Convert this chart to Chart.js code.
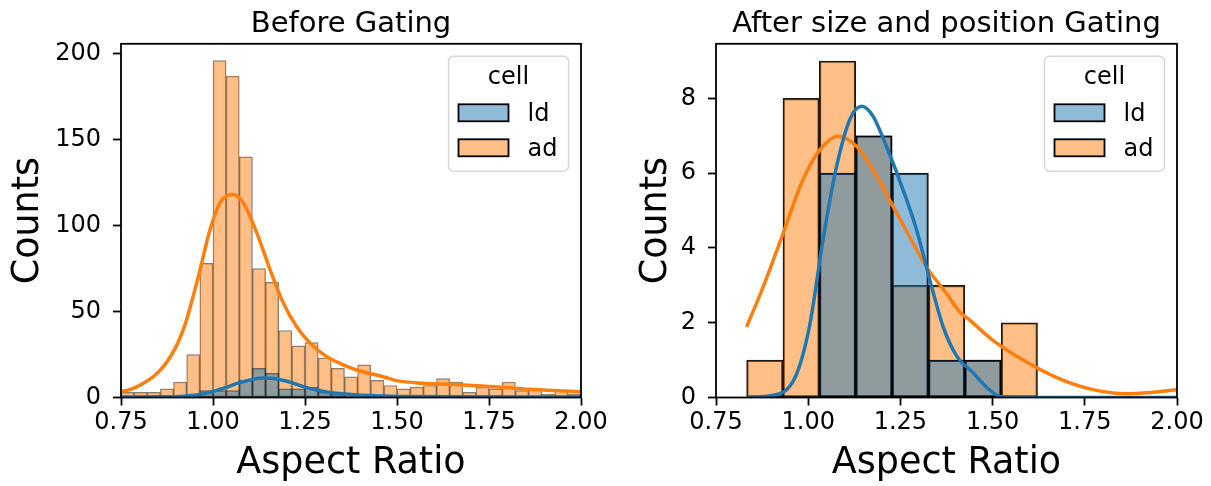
<!DOCTYPE html>
<html><head><meta charset="utf-8">
<script src="https://cdn.jsdelivr.net/npm/chart.js@4.4.0/dist/chart.umd.min.js"></script>
<style>
html,body{margin:0;padding:0;background:#fff;width:1211px;height:486px;overflow:hidden;position:relative}
canvas{position:absolute;top:0}
</style></head><body>
<canvas id="c1" width="620" height="486" style="left:0;width:620px;height:486px"></canvas>
<canvas id="c2" width="611" height="486" style="left:600px;width:611px;height:486px"></canvas>
<script>
// ---------- data ----------
const seriesNames = ['ld', 'ad'];
const legendTitle = 'cell';
const xTickLabels = ['0.75', '1.00', '1.25', '1.50', '1.75', '2.00'];
const leftYTickLabels = ['0', '50', '100', '150', '200'];
const rightYTickLabels = ['0', '2', '4', '6', '8'];

// Before Gating: histogram bins (centers) and counts
const leftBinCenters = [0.7677, 0.8034, 0.8391, 0.8749, 0.9106, 0.9463, 0.9821, 1.0178, 1.0535, 1.0893,
  1.1250, 1.1607, 1.1964, 1.2322, 1.2679, 1.3036, 1.3394, 1.3751, 1.4108, 1.4466,
  1.4823, 1.5180, 1.5537, 1.5895, 1.6252, 1.6609, 1.6967, 1.7324, 1.7681, 1.8039,
  1.8396, 1.8753, 1.9110, 1.9468, 1.9825];
const leftLd = [0, 0, 0, 0, 0, 1, 4, 4, 4, 10, 17, 14, 5, 5, 6, 3, 2, 1, 1, 1, 1, 0, 1, 0, 0, 0, 0, 0, 0, 0, 0, 0, 0, 0, 0];
const leftAd = [3, 3, 3, 5, 9, 25, 78, 196, 187, 140, 75, 67, 39, 30, 32, 23, 17, 12, 19, 10, 7, 5, 6, 7, 11, 9, 3, 6, 5, 9, 4, 5, 2, 4, 2];
// Before Gating: KDE curves
const leftKdeLdX = [0.74, 0.85, 0.92, 0.965, 1.0, 1.034, 1.07, 1.107, 1.135, 1.16, 1.19, 1.22, 1.25, 1.285, 1.321, 1.36, 1.392, 1.465, 1.55, 1.7, 1.85, 2.01];
const leftKdeLdY = [0.3, 0.4, 0.8, 1.8, 3.5, 5.8, 8.5, 10.5, 11.3, 11.2, 10.0, 8.2, 6.0, 4.2, 2.8, 2.0, 1.5, 0.9, 0.6, 0.4, 0.3, 0.25];
const leftKdeAdX = [0.74, 0.78, 0.811, 0.84, 0.865, 0.885, 0.905, 0.925, 0.945, 0.965, 0.992, 1.019, 1.0535, 1.082, 1.119, 1.155, 1.191, 1.227, 1.264, 1.309, 1.354, 1.39, 1.463, 1.499, 1.571, 1.644, 1.717, 1.789, 1.861, 1.934, 2.01];
const leftKdeAdY = [3.0, 5.0, 8.3, 12.5, 18, 24, 32, 43, 58, 74.4, 97.7, 113.3, 118.1, 113.3, 95.8, 74.4, 55, 41.3, 31.6, 23.8, 19, 16, 12.1, 9.8, 8.3, 7.7, 6.9, 5.9, 4.8, 4.0, 3.3];

// After size and position Gating
const rightBinCenters = [0.8823, 0.9809, 1.0795, 1.1781, 1.2767, 1.3753, 1.4739, 1.5725];
const rightLd = [0, 0, 6, 7, 6, 1, 1, 0];
const rightAd = [1, 8, 9, 7, 3, 3, 1, 2];
const rightKdeLdX = [0.833, 0.923, 0.969, 1.005, 1.04, 1.077, 1.113, 1.145, 1.176, 1.212, 1.257, 1.294, 1.33, 1.366, 1.402, 1.447, 1.49, 1.52, 1.6, 2.01];
const rightKdeLdY = [0.0, 0.1, 0.64, 1.98, 4.21, 6.18, 7.44, 7.79, 7.52, 6.72, 5.56, 4.48, 3.14, 1.89, 1.12, 0.66, 0.22, 0.03, 0.0, 0.0];
const rightKdeAdX = [0.833, 0.878, 0.932, 0.986, 1.032, 1.081, 1.131, 1.176, 1.23, 1.275, 1.32, 1.375, 1.411, 1.438, 1.501, 1.592, 1.682, 1.772, 1.862, 1.934, 2.01];
const rightKdeAdY = [1.89, 2.96, 4.39, 5.83, 6.63, 6.99, 6.72, 6.09, 5.11, 4.3, 3.5, 2.78, 2.29, 2.07, 1.53, 0.95, 0.5, 0.21, 0.1, 0.14, 0.22];

// ---------- styling ----------
const FONT = "'DejaVu Sans', sans-serif";
Chart.defaults.font.family = FONT;
Chart.defaults.color = '#000';
const BLUE = '#1f77b4', ORANGE = '#ff7f0e';
const BLUE_FILL = 'rgba(31,119,180,0.5)', ORANGE_FILL = 'rgba(255,127,14,0.5)';
const TICK_SIZE = 24;

const framePlugin = {
  id: 'frameAndLegend',
  afterDatasetsDraw(chart) {
    const ctx = chart.ctx, ca = chart.chartArea;
    ctx.save();
    // axes box (all four spines)
    ctx.strokeStyle = '#000';
    ctx.lineWidth = 1.8;
    ctx.strokeRect(ca.left, ca.top, ca.right - ca.left, ca.bottom - ca.top);
    // legend
    const w = 120, h = 115;
    const x0 = ca.right - 12.5 - w, y0 = ca.top + 12.5;
    const r = 5;
    ctx.beginPath();
    ctx.moveTo(x0 + r, y0);
    ctx.arcTo(x0 + w, y0, x0 + w, y0 + h, r);
    ctx.arcTo(x0 + w, y0 + h, x0, y0 + h, r);
    ctx.arcTo(x0, y0 + h, x0, y0, r);
    ctx.arcTo(x0, y0, x0 + w, y0, r);
    ctx.closePath();
    ctx.fillStyle = 'rgba(255,255,255,0.8)';
    ctx.fill();
    ctx.strokeStyle = '#d6d6d6';
    ctx.lineWidth = 1.5;
    ctx.stroke();
    ctx.fillStyle = '#000';
    ctx.font = TICK_SIZE + 'px ' + FONT;
    ctx.textAlign = 'center';
    ctx.textBaseline = 'alphabetic';
    ctx.fillText(legendTitle, x0 + w / 2, y0 + 28);
    const bars = chart.data.datasets.filter(d => d.type === 'bar');
    bars.forEach((d, i) => {
      const py = y0 + 48 + i * 35;
      ctx.fillStyle = '#fff';
      ctx.fillRect(x0 + 10, py, 50, 17);
      ctx.fillStyle = d.backgroundColor;
      ctx.fillRect(x0 + 10, py, 50, 17);
      ctx.strokeStyle = '#000';
      ctx.lineWidth = 1.8;
      ctx.strokeRect(x0 + 10, py, 50, 17);
      ctx.fillStyle = '#000';
      ctx.textAlign = 'left';
      ctx.fillText(d.label, x0 + 79, py + 17);
    });
    ctx.restore();
  }
};

function pts(xs, ys) { return xs.map((x, i) => ({ x: x, y: ys[i] })); }
function barPts(xs, ys) { return xs.map((x, i) => ({ x: x, y: ys[i] === 0 ? null : ys[i] })); }

function makeChart(id, cfg) {
  const barStyle = {
    type: 'bar', grouped: false, barPercentage: 1, categoryPercentage: 1,
    borderSkipped: false, borderWidth: cfg.edgeWidth, borderColor: cfg.edgeColor, order: 1, clip: 0
  };
  const lineStyle = {
    type: 'line', pointRadius: 0, borderWidth: 3.5, tension: 0.4,
    cubicInterpolationMode: 'monotone', fill: false, order: 0, clip: 0
  };
  return new Chart(document.getElementById(id), {
    type: 'bar',
    data: {
      datasets: [
        Object.assign({}, barStyle, { label: seriesNames[0], data: barPts(cfg.bins, cfg.ld), backgroundColor: BLUE_FILL }),
        Object.assign({}, barStyle, { label: seriesNames[1], data: barPts(cfg.bins, cfg.ad), backgroundColor: ORANGE_FILL }),
        Object.assign({}, lineStyle, { label: seriesNames[0] + ' kde', data: pts(cfg.kdeLdX, cfg.kdeLdY), borderColor: BLUE }),
        Object.assign({}, lineStyle, { label: seriesNames[1] + ' kde', data: pts(cfg.kdeAdX, cfg.kdeAdY), borderColor: ORANGE })
      ]
    },
    options: {
      responsive: false, animation: false, devicePixelRatio: 1,
      layout: { padding: { left: 0, right: cfg.padRight, top: 0, bottom: 0 } },
      plugins: {
        legend: { display: false },
        tooltip: { enabled: false },
        title: {
          display: true, text: cfg.title, fullSize: false, color: '#000',
          font: { size: 29, weight: 'normal', family: FONT }, padding: { top: 7, bottom: 2 }
        }
      },
      scales: {
        x: {
          type: 'linear', min: 0.75, max: 2.0, offset: false,
          grid: { display: true, drawOnChartArea: false, drawTicks: true, tickLength: 8, tickWidth: 1.8, tickColor: '#000', offset: false },
          border: { display: false },
          ticks: {
            stepSize: 0.25, includeBounds: false, autoSkip: false, maxRotation: 0, color: '#000',
            font: { size: TICK_SIZE, family: FONT }, padding: 3,
            callback: (v, i) => xTickLabels[i]
          },
          title: { display: true, text: 'Aspect Ratio', color: '#000', font: { size: 36.5, family: FONT }, padding: { top: 0, bottom: 1 } },
          afterFit: s => { s.height = 88.5; }
        },
        y: {
          type: 'linear', min: 0, max: cfg.yMax, beginAtZero: true,
          grid: { display: true, drawOnChartArea: false, drawTicks: true, tickLength: 8, tickWidth: 1.8, tickColor: '#000' },
          border: { display: false },
          ticks: {
            stepSize: cfg.yStep, includeBounds: false, autoSkip: false, color: '#000',
            font: { size: TICK_SIZE, family: FONT }, padding: 12,
            callback: (v, i) => cfg.yLabels[i]
          },
          title: { display: true, text: 'Counts', color: '#000', font: { size: 36.5, family: FONT }, padding: { top: cfg.yTitlePad, bottom: 0 } },
          afterFit: s => { s.width = cfg.yWidth; }
        }
      }
    },
    plugins: [framePlugin]
  });
}

makeChart('c1', {
  title: 'Before Gating', bins: leftBinCenters, ld: leftLd, ad: leftAd,
  kdeLdX: leftKdeLdX, kdeLdY: leftKdeLdY, kdeAdX: leftKdeAdX, kdeAdY: leftKdeAdY,
  yMax: 205.8, yStep: 50, yLabels: leftYTickLabels, yWidth: 121, padRight: 39, yTitlePad: 7,
  edgeWidth: 0.8, edgeColor: 'rgba(0,0,0,0.5)'
});
makeChart('c2', {
  title: 'After size and position Gating', bins: rightBinCenters, ld: rightLd, ad: rightAd,
  kdeLdX: rightKdeLdX, kdeLdY: rightKdeLdY, kdeAdX: rightKdeAdX, kdeAdY: rightKdeAdY,
  yMax: 9.46, yStep: 2, yLabels: rightYTickLabels, yWidth: 116, padRight: 34, yTitlePad: 35,
  edgeWidth: 1.5, edgeColor: 'rgba(0,0,0,0.9)'
});
</script>
</body></html>
